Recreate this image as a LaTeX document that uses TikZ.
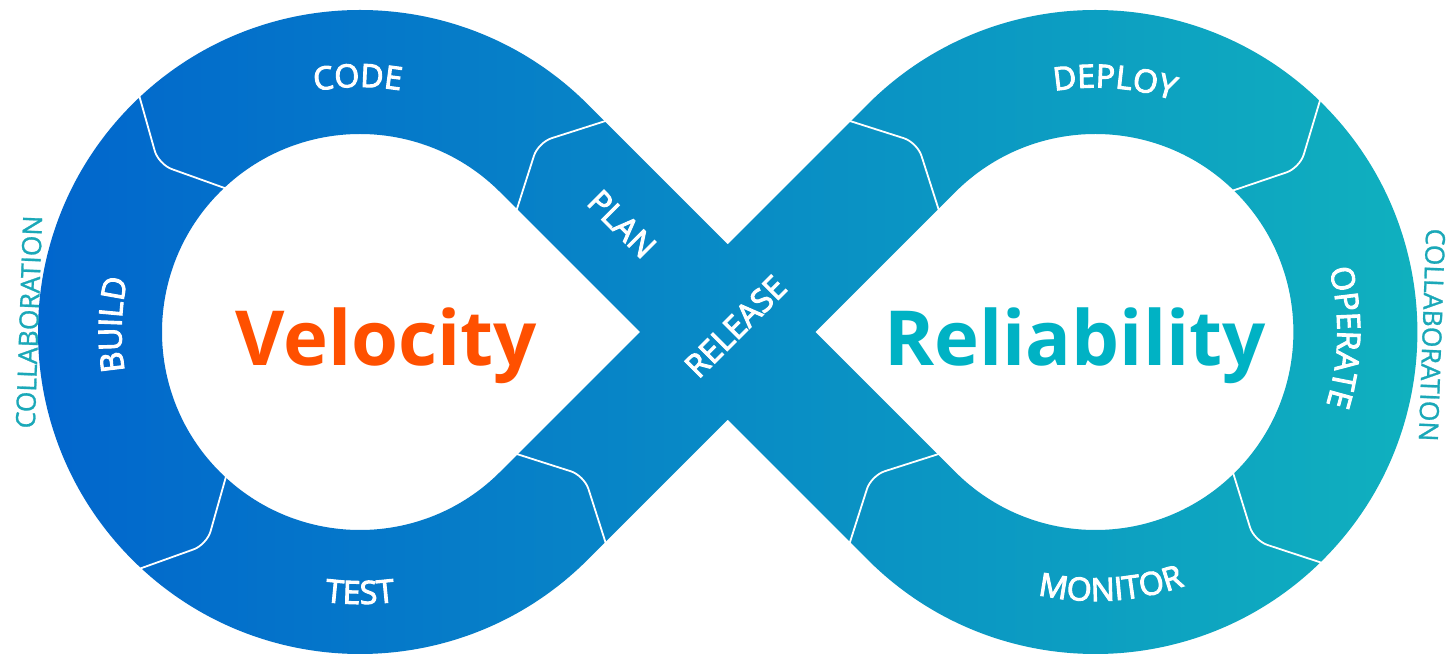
\documentclass[tikz,border=0pt]{standalone}
\usepackage{fontspec}
\usetikzlibrary{calc,decorations.text}
\setmainfont{Open Sans}
\IfFontExistsTF{Open Sans SemiBold}
  {\newfontfamily\lblfont{Open Sans SemiBold}}
  {\newfontfamily\lblfont{Open Sans}[FakeBold=3]}
\newfontfamily\sidefont{Open Sans}[FakeBold=1]

\definecolor{loopA}{RGB}{1,100,205}
\definecolor{loopB}{RGB}{9,153,198}
\definecolor{loopC}{RGB}{16,178,190}
\definecolor{velo}{RGB}{255,80,0}
\definecolor{relia}{RGB}{0,178,196}
\definecolor{collab}{RGB}{26,168,184}

% chevron-shaped separator between two stages; #1 = centre point, #2 = flow direction
\newcommand\stagesep[2]{\draw[divline, shift={#1}, rotate=#2] (0,64) -- (33,0) -- (0,-64);}

\begin{document}
\begin{tikzpicture}[x=1pt,y=1pt,
  band/.style={left color=loopA, middle color=loopB, right color=loopC, even odd rule},
  divline/.style={draw=white, line width=1.8, rounded corners=14, line cap=round},
  lbl/.style={text=white, font=\lblfont\fontsize{32}{38}\selectfont, inner sep=0pt},
  arclabel/.style={decorate, decoration={text along path, text align=center,
      text color=white, text={|\lblfont\fontsize{32}{38}\selectfont|#1}}},
  bigword/.style={anchor=base, font=\bfseries\fontsize{76}{90}\selectfont, inner sep=0pt},
  side/.style={text=collab, font=\sidefont\fontsize{26.5}{30}\selectfont, inner sep=0pt}]

\fill[white] (0,0) rectangle (1451,656);
\useasboundingbox (0,0) rectangle (1451,656);

% lobe centres and crossing point
\coordinate (L) at (360,324);
\coordinate (X) at (727.7,324);
\coordinate (R) at (1095.4,324);

% the infinity band: outer outline with two teardrop holes
\path[band]
  ($(L)+(45:322)$) arc[start angle=45, end angle=315, radius=322]
    -- ($(X)+(0,-87.7)$) -- ($(R)+(225:322)$)
    arc[start angle=225, end angle=495, radius=322]
    -- ($(X)+(0,87.7)$) -- cycle
  ($(L)+(45:198)$) arc[start angle=45, end angle=315, radius=198]
    -- ($(L)+(280,0)$) -- cycle
  ($(R)+(225:198)$) arc[start angle=225, end angle=495, radius=198]
    -- ($(R)+(-280,0)$) -- cycle;

% stage separators
\stagesep{($(L)+(133:260)$)}{223}
\stagesep{($(L)+(227:260)$)}{317}
\stagesep{($(L)+(45:260)+(-45:25)$)}{135}
\stagesep{($(L)+(-45:260)+(45:24)$)}{45}
\stagesep{($(R)+(135:260)+(225:25)$)}{45}
\stagesep{($(R)+(225:260)+(135:24)$)}{135}
\stagesep{($(R)+(46:260)$)}{-44}
\stagesep{($(R)+(-45.5:260)$)}{-135.5}

% stage names along the lobes
\path[arclabel=CODE] ($(L)+(120.5:245)$) arc[start angle=120.5, end angle=60.5, radius=245];
\path[arclabel=BUILD] ($(L)+(208.3:238.5)$) arc[start angle=208.3, end angle=148.3, radius=238.5];
\path[arclabel=TEST] ($(L)+(240:272)$) arc[start angle=240, end angle=300, radius=272];
\path[arclabel=DEPLOY] ($(R)+(115.6:244.5)$) arc[start angle=115.6, end angle=55.6, radius=244.5];
\path[arclabel=OPERATE] ($(R)+(33.8:242)$) arc[start angle=33.8, end angle=-36.2, radius=242];
\path[arclabel=MONITOR] ($(R)+(238.5:269)$) arc[start angle=238.5, end angle=308.5, radius=269];

% stage names on the crossing
\node[lbl, rotate=-45] (plan) at (622,432) {PLAN};
\node[lbl, rotate=45] (release) at (735.5,329.5) {RELEASE};

% headline words
\node[bigword, text=velo] (velocity) at (386,290) {Velocity};
\node[bigword, text=relia] (reliability) at (1075,290) {Reliability};

% side captions
\node[side, rotate=88] (collabL) at (29,334) {COLLABORATION};
\node[side, rotate=-92] (collabR) at (1432,321) {COLLABORATION};
\end{tikzpicture}
\end{document}
